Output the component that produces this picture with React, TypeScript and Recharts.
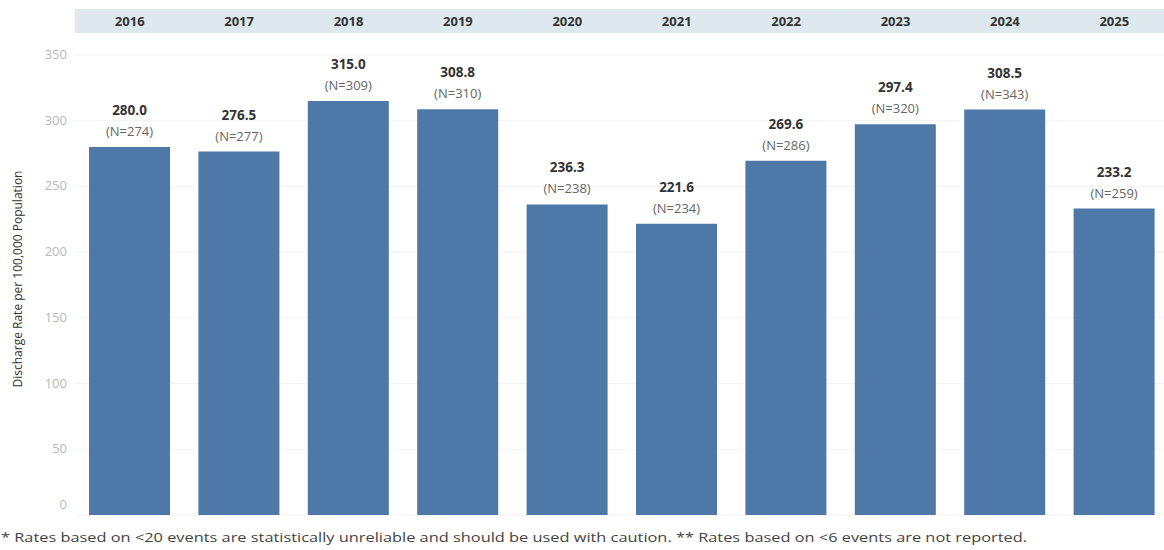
import React from "react";
import { BarChart, Bar, XAxis, YAxis, CartesianGrid, LabelList } from "recharts";

const years = ["2016", "2017", "2018", "2019", "2020", "2021", "2022", "2023", "2024", "2025"];
const rates = [280.0, 276.5, 315.0, 308.8, 236.3, 221.6, 269.6, 297.4, 308.5, 233.2];
const counts = [274, 277, 309, 310, 238, 234, 286, 320, 343, 259];
const yTicks = [0, 50, 100, 150, 200, 250, 300, 350];
const yTitle = "Discharge Rate per 100,000 Population";
const footnote =
  "* Rates based on <20 events are statistically unreliable and should be used with caution. ** Rates based on <6 events are not reported.";

const data = years.map((y, i) => ({ year: y, rate: rates[i], n: counts[i] }));

const FONT = "'Open Sans', 'DejaVu Sans', sans-serif";

const HeaderTick = (props: any) => {
  const { x, payload } = props;
  const half = payload && payload.offset ? payload.offset : 54.7;
  return (
    <g>
      <rect x={x - half} y={9} width={half * 2 + 0.5} height={24} fill="#dde8ef" />
      <text
        x={x}
        y={26}
        textAnchor="middle"
        fontFamily={FONT}
        fontSize={13}
        fontWeight={700}
        fill="#333"
      >
        {payload.value}
      </text>
    </g>
  );
};

const YTick = (props: any) => {
  const { x, y, payload } = props;
  const dy = payload.value === 0 ? -6 : 4;
  return (
    <text x={x} y={y + dy} textAnchor="end" fontFamily={FONT} fontSize={13} fill="#b8b8b8">
      {payload.value}
    </text>
  );
};

const BarLabel = (props: any) => {
  const { x, y, width, index } = props;
  const cx = x + width / 2;
  return (
    <g>
      <text
        x={cx}
        y={y - 32}
        textAnchor="middle"
        fontFamily={FONT}
        fontSize={13.5}
        fontWeight={700}
        fill="#333"
      >
        {rates[index].toFixed(1)}
      </text>
      <text x={cx} y={y - 11} textAnchor="middle" fontFamily={FONT} fontSize={13} fill="#666">
        {`(N=${counts[index]})`}
      </text>
    </g>
  );
};

const YTitle = (props: any) => {
  const { viewBox } = props;
  const cy = viewBox ? viewBox.y + viewBox.height / 2 - 6 : 280;
  return (
    <text
      x={22}
      y={cy}
      transform={`rotate(-90 22 ${cy})`}
      textAnchor="middle"
      fontFamily={FONT}
      fontSize={12}
      fill="#333"
    >
      {yTitle}
    </text>
  );
};

export default function App() {
  return (
    <div
      style={{
        position: "absolute",
        left: 0,
        top: 0,
        width: 1164,
        height: 550,
        overflow: "hidden",
        background: "#fff",
      }}
    >
      <BarChart
        width={1172}
        height={550}
        data={data}
        margin={{ top: 25, right: 3, bottom: 35, left: 0 }}
        barCategoryGap={14}
      >
        <CartesianGrid vertical={false} stroke="#f2f2f2" />
        <XAxis xAxisId="b" dataKey="year" hide />
        <XAxis
          xAxisId="t"
          dataKey="year"
          orientation="top"
          height={30}
          axisLine={false}
          tickLine={false}
          tick={<HeaderTick />}
          interval={0}
        />
        <YAxis
          width={75}
          domain={[0, 350]}
          ticks={yTicks}
          axisLine={false}
          tickLine={false}
          tick={<YTick />}
          label={<YTitle />}
        />
        <Bar dataKey="rate" xAxisId="b" fill="#4e78a8" isAnimationActive={false}>
          <LabelList dataKey="rate" content={<BarLabel />} />
        </Bar>
      </BarChart>
      <svg
        width={1164}
        height={20}
        style={{ position: "absolute", left: 0, top: 528 }}
      >
        <text
          x={1}
          y={14}
          fontFamily={FONT}
          fontSize={12.5}
          fill="#444"
          textLength={1026}
          lengthAdjust="spacingAndGlyphs"
        >
          {footnote}
        </text>
      </svg>
    </div>
  );
}
